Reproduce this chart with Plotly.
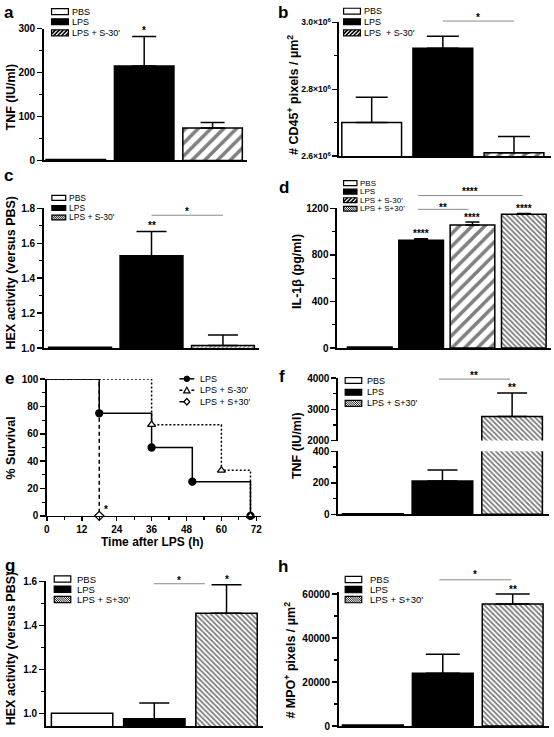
import plotly.graph_objects as go

W, H = 554, 737
FONT = "Liberation Sans, Arial, sans-serif"

# ---------------- data ----------------
grp_s = ["PBS", "LPS", "LPS + S-30'"]
grp_4 = ["PBS", "LPS", "LPS + S-30'", "LPS + S+30'"]
grp_p = ["PBS", "LPS", "LPS + S+30'"]

a_tnf = [2, 215, 74]
a_sem = [0, 67, 12.5]
b_cd45 = [2.701e6, 2.923e6, 2.610e6]
b_sem = [0.075e6, 0.036e6, 0.049e6]
c_hex = [1.005, 1.528, 1.015]
c_sem = [0, 0.139, 0.06]
d_il1b = [8, 925, 1058, 1150]
d_sem = [0, 14, 24, 6]

e_lps_t = [0, 18, 36, 50, 70]
e_lps_s = [100, 75, 50, 25, 0]
e_m30_t = [0, 36, 60, 70]
e_m30_s = [100, 66.7, 33.3, 0]
e_p30_t = [0, 18]
e_p30_s = [100, 0]

f_tnf = [3, 212, 2770]
f_sem = [0, 69, 757]
g_hex = [1.0, 0.975, 1.455]
g_sem = [0, 0.072, 0.13]
h_mpo = [500, 24000, 55500]
h_sem = [0, 8600, 4500]

# tick labels
a_yticks, a_yminor = [0, 100, 200, 300], [50, 150, 250]
b_yticks, b_yminor = [2.6e6, 2.8e6, 3.0e6], [2.7e6, 2.9e6]
b_ytext = ["2.6×10<sup>6</sup>", "2.8×10<sup>6</sup>", "3.0×10<sup>6</sup>"]
c_yticks, c_yminor = [1.0, 1.2, 1.4, 1.6, 1.8], [1.1, 1.3, 1.5, 1.7]
d_yticks, d_yminor = [0, 400, 800, 1200], [200, 600, 1000]
e_xticks, e_xminor = [0, 12, 24, 36, 48, 60, 72], [6, 18, 30, 42, 54, 66]
e_yticks, e_yminor = [0, 20, 40, 60, 80, 100], [10, 30, 50, 70, 90]
f_lo_ticks, f_lo_minor = [0, 200, 400], [100, 300]
f_hi_ticks, f_hi_minor = [2000, 3000, 4000], [2500, 3500]
g_yticks, g_yminor = [1.0, 1.2, 1.4, 1.6], [1.1, 1.3, 1.5]
h_yticks, h_yminor = [0, 20000, 40000, 60000], [10000, 30000, 50000]


def X(px):
    return px / W


def Y(py):
    return 1 - py / H


fig = go.Figure()
shapes = []
annots = []

PAT = {
    "wide": dict(shape="/", size=9, solidity=0.4, fgcolor="black", bgcolor="white"),
    "dense": dict(shape="\\", size=3.6, solidity=0.5, fgcolor="black", bgcolor="white"),
    "fine": dict(shape="/", size=3, solidity=0.45, fgcolor="black", bgcolor="white"),
}
OUT = dict(color="black", width=1.5)


def bar_marker(group, fine=False):
    if group == "PBS":
        return dict(color="white", line=OUT)
    if group == "LPS":
        return dict(color="black", line=OUT)
    if group == "LPS + S-30'":
        return dict(color="white", pattern=PAT["fine" if fine else "wide"], line=OUT)
    return dict(color="white", pattern=PAT["dense"], line=OUT)


def add_bars(xr, yr, groups, vals, errs, width, cap, fine=False):
    for i, (g, v, e) in enumerate(zip(groups, vals, errs)):
        fig.add_trace(go.Bar(
            x=[i], y=[v], width=[width], xaxis=xr, yaxis=yr,
            marker=bar_marker(g, fine),
            error_y=dict(type="data", symmetric=False, array=[e], arrayminus=[0],
                         visible=e > 0, color="black", thickness=1.5, width=cap),
            showlegend=False, hoverinfo="skip"))


def ycfg(bottom, top, rng, tickvals, minorvals, anchor, ticktext=None, fsize=10, fmt=None):
    d = dict(domain=[Y(bottom), Y(top)], range=rng, anchor=anchor, showline=True,
             linecolor="black", linewidth=1.5, ticks="outside", ticklen=5, tickwidth=1.5,
             tickcolor="black", tickmode="array", tickvals=tickvals, showgrid=False,
             zeroline=False, ticklabeloverflow="allow",
             tickfont=dict(family=FONT, size=fsize, color="black", weight="bold"),
             minor=dict(tickmode="array", tickvals=minorvals, ticks="outside", ticklen=3,
                        tickwidth=1.2, tickcolor="black", showgrid=False))
    if ticktext is not None:
        d["ticktext"] = ticktext
    if fmt is not None:
        d["tickformat"] = fmt
    return d


def xcfg(left, right, rng, anchor):
    return dict(domain=[X(left), X(right)], range=rng, anchor=anchor, showline=True,
                linecolor="black", linewidth=1.5, ticks="", showticklabels=False,
                showgrid=False, zeroline=False)


def ytitle(xc, yc, text, size=12.5):
    annots.append(dict(xref="paper", yref="paper", x=X(xc), y=Y(yc), text="<b>" + text + "</b>",
                       textangle=-90, showarrow=False, xanchor="center", yanchor="middle",
                       font=dict(family=FONT, size=size, color="black")))


def plabel(xc, yc, text):
    annots.append(dict(xref="paper", yref="paper", x=X(xc), y=Y(yc), text="<b>" + text + "</b>",
                       showarrow=False, xanchor="center", yanchor="middle",
                       font=dict(family=FONT, size=17, color="black")))


def star_bar(xr, yr, i, top, text, shift):
    annots.append(dict(xref=xr, yref=yr, x=i, y=top, text="<b>" + text + "</b>", showarrow=False,
                       xanchor="center", yanchor="middle", yshift=shift,
                       font=dict(family=FONT, size=10, color="black")))


def sig(xr, x0, x1, yline, ystar, text):
    shapes.append(dict(type="line", xref=xr, yref="paper", x0=x0, x1=x1, y0=Y(yline), y1=Y(yline),
                       line=dict(color="#8a8a8a", width=1)))
    annots.append(dict(xref=xr, yref="paper", x=(x0 + x1) / 2, y=Y(ystar + 2), text="<b>" + text + "</b>",
                       showarrow=False, xanchor="center", yanchor="middle",
                       font=dict(family=FONT, size=10, color="black")))


def swatch(x0, yc, w, h, kind):
    y0, y1 = yc - h / 2, yc + h / 2
    fill = "black" if kind == "black" else "white"
    shapes.append(dict(type="rect", xref="paper", yref="paper", x0=X(x0), x1=X(x0 + w),
                       y0=Y(y1), y1=Y(y0), fillcolor=fill, line=dict(width=0)))
    if kind in ("wide", "dense", "fine"):
        spacing, lw, back = {"wide": (4.0, 1.6, False), "dense": (2.2, 0.9, True),
                             "fine": (2.0, 0.9, False)}[kind]
        a = x0 - h
        while a < x0 + w:
            tmin, tmax = max(0, x0 - a), min(h, x0 + w - a)
            if tmax > tmin:
                if back:
                    p0 = (a + tmin, y0 + tmin)
                    p1 = (a + tmax, y0 + tmax)
                else:
                    p0 = (a + tmin, y1 - tmin)
                    p1 = (a + tmax, y1 - tmax)
                shapes.append(dict(type="line", xref="paper", yref="paper", x0=X(p0[0]), y0=Y(p0[1]),
                                   x1=X(p1[0]), y1=Y(p1[1]), line=dict(color="black", width=lw)))
            a += spacing
    shapes.append(dict(type="rect", xref="paper", yref="paper", x0=X(x0), x1=X(x0 + w),
                       y0=Y(y1), y1=Y(y0), line=dict(color="black", width=1.2)))


def legend(xs, w, h, xt, rows, labels, kinds, fsize=9):
    for yc, lab, k in zip(rows, labels, kinds):
        swatch(xs, yc, w, h, k)
        annots.append(dict(xref="paper", yref="paper", x=X(xt), y=Y(yc), text=lab, showarrow=False,
                           xanchor="left", yanchor="middle",
                           font=dict(family=FONT, size=fsize, color="black")))


layout_axes = {}

# ---------------- panel a ----------------
add_bars("x", "y", grp_s, a_tnf, a_sem, 0.87, 12)
layout_axes["xaxis"] = xcfg(41, 246, [-0.47, 2.5], "y")
layout_axes["yaxis"] = ycfg(157, 23, [0, 300], a_yticks, a_yminor, "x")
star_bar("x", "y", 1, a_tnf[1] + a_sem[1], "*", 6)
legend(49, 17, 6, 68, [5.7, 16, 27.3], grp_s, ["white", "black", "wide"])
ytitle(8, 92, "TNF (IU/ml)")
plabel(6, 7, "a")

# ---------------- panel b ----------------
add_bars("x2", "y2", grp_s, b_cd45, b_sem, 0.84, 16)
layout_axes["xaxis2"] = xcfg(339, 553, [-0.46, 2.52], "y2")
layout_axes["yaxis2"] = ycfg(152.7, 16.7, [2.6e6, 3.0e6], b_yticks, b_yminor, "x2",
                             ticktext=b_ytext, fsize=8.5)
sig("x2", 1, 2, 15.3, 10, "*")
legend(343.7, 17, 6, 362.7, [5.3, 16, 27.3], ["PBS", "LPS", "LPS\u00a0 + S-30'"],
       ["white", "black", "wide"])
ytitle(292, 90, "# CD45<sup>+</sup> pixels / µm<sup>2</sup>")
plabel(283, 7, "b")

# ---------------- panel c ----------------
add_bars("x3", "y3", grp_s, c_hex, c_sem, 0.88, 15, fine=True)
layout_axes["xaxis3"] = xcfg(41, 258, [-0.51, 2.5], "y3")
layout_axes["yaxis3"] = ycfg(347.7, 205.7, [1.0, 1.8], c_yticks, c_yminor, "x3", fmt=".1f")
star_bar("x3", "y3", 1, c_hex[1] + c_sem[1], "**", 6)
sig("x3", 1, 2, 212.7, 206.7, "*")
legend(49.3, 14, 5, 65, [195, 205.3, 215], grp_s, ["white", "black", "fine"], fsize=8.5)
ytitle(8, 271, "HEX activity (versus PBS)")
plabel(6, 172, "c")

# ---------------- panel d ----------------
add_bars("x4", "y4", grp_4, d_il1b, d_sem, 0.87, 7)
layout_axes["xaxis4"] = xcfg(337, 553, [-0.64, 3.53], "y4")
layout_axes["yaxis4"] = ycfg(347.7, 205.7, [0, 1200], d_yticks, d_yminor, "x4", fmt="d")
for i in (1, 2, 3):
    star_bar("x4", "y4", i, d_il1b[i] + d_sem[i], "****", 5)
sig("x4", 0.94, 2.98, 192.7, 187, "****")
sig("x4", 0.94, 1.92, 206.7, 202.5, "**")
legend(343.7, 13.5, 5, 358.7, [180, 188.7, 197.4, 206.1], grp_4,
       ["white", "black", "wide", "dense"], fsize=8)
ytitle(296, 270, "IL-1β (pg/ml)")
plabel(284, 184, "d")

# ---------------- panel e ----------------
def e_trace(t, s, dash, sym, fill):
    fig.add_trace(go.Scatter(x=t, y=s, mode="lines", xaxis="x5", yaxis="y5", cliponaxis=False,
                             line=dict(shape="hv", dash=dash, color="black", width=1.5),
                             showlegend=False, hoverinfo="skip"))
    fig.add_trace(go.Scatter(x=t[1:], y=s[1:], mode="markers", xaxis="x5", yaxis="y5",
                             cliponaxis=False,
                             marker=dict(symbol=sym, size=7, color=fill,
                                         line=dict(color="black", width=1.3)),
                             showlegend=False, hoverinfo="skip"))


e_trace(e_p30_t, e_p30_s, "4px,3px", "diamond", "white")
e_trace(e_lps_t, e_lps_s, "solid", "circle", "black")
e_trace(e_m30_t, e_m30_s, "2px,2px", "triangle-up", "white")

layout_axes["xaxis5"] = dict(domain=[X(44.3), X(260)], range=[0, 73.5], anchor="y5", showline=True,
                             linecolor="black", linewidth=1.5, ticks="outside", ticklen=4,
                             tickwidth=1.5, tickcolor="black", tickmode="array",
                             tickvals=e_xticks, showgrid=False, zeroline=False,
                             tickfont=dict(family=FONT, size=10, color="black", weight="bold"),
                             minor=dict(tickmode="array", tickvals=e_xminor, ticks="outside",
                                        ticklen=3, tickwidth=1.2, tickcolor="black",
                                        showgrid=False))
layout_axes["yaxis5"] = ycfg(518.3, 379.3, [0, 100], e_yticks, e_yminor, "x5")
annots.append(dict(xref="x5", yref="y5", x=18, y=0, text="<b>*</b>", showarrow=False,
                   xanchor="center", yanchor="middle", xshift=7, yshift=6,
                   font=dict(family=FONT, size=10, color="black")))
annots.append(dict(xref="paper", yref="paper", x=X(150), y=Y(545), text="<b>Time after LPS (h)</b>",
                   showarrow=False, xanchor="center", yanchor="middle",
                   font=dict(family=FONT, size=12, color="black")))
# legend e
e_rows = [379, 390.7, 402.3]
e_labels = ["LPS", "LPS + S-30'", "LPS + S+30'"]
e_dash = ["solid", "dot", "dash"]
for yc, lab, dsh in zip(e_rows, e_labels, e_dash):
    shapes.append(dict(type="line", xref="paper", yref="paper", x0=X(178), x1=X(193), y0=Y(yc), y1=Y(yc),
                       line=dict(color="black", width=1.5, dash=dsh)))
    annots.append(dict(xref="paper", yref="paper", x=X(196.7), y=Y(yc), text=lab, showarrow=False,
                       xanchor="left", yanchor="middle", font=dict(family=FONT, size=9, color="black")))
cx = 185.5
shapes.append(dict(type="circle", xref="paper", yref="paper", x0=X(cx - 2.8), x1=X(cx + 2.8),
                   y0=Y(e_rows[0] + 2.8), y1=Y(e_rows[0] - 2.8), fillcolor="black",
                   line=dict(color="black", width=1)))
ty = e_rows[1]
shapes.append(dict(type="path", xref="paper", yref="paper",
                   path="M %f,%f L %f,%f L %f,%f Z" % (X(cx - 3.2), Y(ty + 2.6), X(cx + 3.2), Y(ty + 2.6),
                                                      X(cx), Y(ty - 3.2)),
                   fillcolor="white", line=dict(color="black", width=1.2)))
dy = e_rows[2]
shapes.append(dict(type="path", xref="paper", yref="paper",
                   path="M %f,%f L %f,%f L %f,%f L %f,%f Z" % (X(cx - 3), Y(dy), X(cx), Y(dy - 3.3),
                                                              X(cx + 3), Y(dy), X(cx), Y(dy + 3.3)),
                   fillcolor="white", line=dict(color="black", width=1.2)))
ytitle(8, 449, "% Survival")
plabel(7, 379, "e")

# ---------------- panel f ----------------
add_bars("x6", "y6", grp_p, f_tnf, f_sem, 0.87, 15)
add_bars("x6", "y7", grp_p, f_tnf, f_sem, 0.87, 15)
layout_axes["xaxis6"] = xcfg(338, 551, [-0.5, 2.53], "y6")
layout_axes["yaxis6"] = ycfg(516.7, 452.7, [0, 400], f_lo_ticks, f_lo_minor, "x6")
layout_axes["yaxis7"] = ycfg(441.7, 378.3, [2000, 4000], f_hi_ticks, f_hi_minor, "x6", fmt="d")
star_bar("x6", "y7", 2, f_tnf[2] + f_sem[2], "**", 5)
sig("x6", 0.95, 1.97, 379.3, 374, "**")
legend(345.3, 16.7, 6, 365.3, [380.7, 392.7, 404], grp_p, ["white", "black", "dense"])
ytitle(296, 447, "TNF (IU/ml)")
plabel(282, 377, "f")

# ---------------- panel g ----------------
add_bars("x7", "y8", grp_p, g_hex, g_sem, 0.85, 15)
layout_axes["xaxis7"] = xcfg(43, 262, [-0.505, 2.5], "y8")
layout_axes["yaxis8"] = ycfg(732.4, 585, [0.94, 1.6], g_yticks, g_yminor, "x7", fmt=".1f")
star_bar("x7", "y8", 2, g_hex[2] + g_sem[2], "*", 5)
sig("x7", 0.99, 1.7, 587.3, 581.7, "*")
legend(51.7, 16.7, 6.5, 72.7, [582.5, 592.9, 603.3], grp_p, ["white", "black", "dense"], fsize=9.5)
ytitle(8, 653, "HEX activity (versus PBS)")
plabel(7, 569, "g")

# ---------------- panel h ----------------
add_bars("x8", "y9", grp_p, h_mpo, h_sem, 0.87, 17)
layout_axes["xaxis8"] = xcfg(338.7, 551, [-0.49, 2.52], "y9")
layout_axes["yaxis9"] = ycfg(732, 595.5, [0, 61000], h_yticks, h_yminor, "x8", fmt="d")
star_bar("x8", "y9", 2, h_mpo[2] + h_sem[2], "**", 5)
sig("x8", 0.95, 1.98, 583.3, 576, "*")
legend(345.3, 16.7, 6.5, 368.7, [583, 593.2, 603.4], grp_p, ["white", "black", "dense"], fsize=9.5)
ytitle(290, 665, "# MPO<sup>+</sup> pixels / µm<sup>2</sup>")
plabel(283, 570, "h")

fig.update_layout(width=W, height=H, margin=dict(l=0, r=0, t=0, b=0), paper_bgcolor="white",
                  plot_bgcolor="white", showlegend=False, barmode="overlay",
                  font=dict(family=FONT, color="black"), shapes=shapes, annotations=annots,
                  **layout_axes)

fig.write_html("out.html", config={"displayModeBar": False, "staticPlot": True},
               post_script="document.body.style.margin='0';document.body.style.overflow='hidden';")
